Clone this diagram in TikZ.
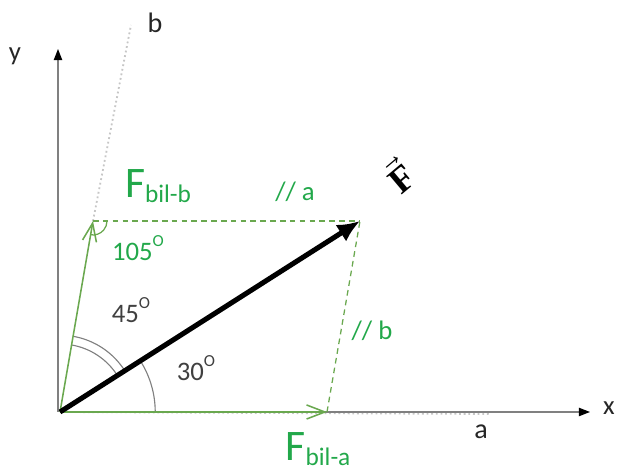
\documentclass[tikz,border=0pt]{standalone}
\usepackage{fontspec}
\setmainfont{Carlito}
\newfontfamily\vecfont{Liberation Serif}
\usetikzlibrary{arrows.meta, angles, quotes, calc}
\definecolor{lblgreen}{RGB}{34,168,74}
\definecolor{compgreen}{RGB}{106,168,79}

\newcommand{\degmark}[1]{#1\raisebox{0.55em}{\fontsize{12}{12}\selectfont O}}
\newcommand{\fcomp}[1]{F\raisebox{-0.12em}{\fontsize{18}{18}\selectfont #1}}

\begin{document}
\begin{tikzpicture}[x=0.025cm, y=0.025cm,
    axis/.style={draw=gray, line width=0.9pt, -{Triangle[length=8pt, width=6pt, color=black]}},
    guide/.style={draw=gray!45, dotted, line width=1.3pt},
    comp/.style={draw=compgreen, line width=1.1pt, -{Straight Barb[length=13pt, width=10pt]}},
    par/.style={draw=compgreen, line width=0.9pt, dash pattern=on 4pt off 3pt},
    lbl/.style={text=lblgreen, font=\fontsize{19}{19}\selectfont},
    ang/.style={text=black!75, font=\fontsize{19}{19}\selectfont}]
    \useasboundingbox (0,0) rectangle (619,471);
    % points of the parallelogram
    \coordinate (O) at (60,59);
    \coordinate (Fa) at (327,59);
    \coordinate (Fb) at (93,250);
    \coordinate (F) at (360,250);
    \coordinate (xend) at (590,59);
    \coordinate (ybot) at (58,59);
    \coordinate (yend) at (58,422);
    \coordinate (aend) at (490,57);
    \coordinate (bend) at (131,446);
    % axes and the lines a, b
    \draw[guide] (O) -- (aend);
    \draw[guide] (Fb) -- (bend);
    \draw[axis] (O) -- (xend);
    \draw[axis] (ybot) -- (yend);
    \node[text=black!85] (xlbl) at (609,63) {\fontsize{19}{19}\selectfont x};
    \node[text=black!85] (ylbl) at (15,415) {\fontsize{19}{19}\selectfont y};
    \node[text=black!85] (albl) at (481,39) {\fontsize{20}{20}\selectfont a};
    \node[text=black!85] (blbl) at (155,448) {\fontsize{20}{20}\selectfont b};
    % angles
    \pic[draw=gray, line width=0.8pt, angle radius=1.7cm] {angle = F--O--Fb};
    \pic[draw=gray, line width=0.8pt, angle radius=1.92cm] {angle = F--O--Fb};
    \pic[draw=gray, line width=0.8pt, angle radius=2.38cm] {angle = Fa--O--F};
    \pic[draw=compgreen, line width=0.9pt, angle radius=0.35cm] {angle = O--Fb--F};
    % parallel lines
    \draw[par] (Fb) -- (F);
    \draw[par] (Fa) -- (F);
    % components and resultant
    \draw[comp] (O) -- (Fa);
    \draw[comp] (O) -- (Fb);
    \draw[line width=3.6pt, -{Latex[length=16pt, width=14pt]}] (O) -- (F);
    \node[rotate=40, inner sep=0pt] (Flbl) at (399,296) {\fontsize{26}{26}\selectfont$\vec{\mbox{\vecfont\bfseries F}}$};
    % labels
    \node[lbl] (fa) at (318,22) {\fontsize{31}{31}\selectfont\fcomp{bil-a}};
    \node[lbl] (fb) at (158,285) {\fontsize{31}{31}\selectfont\fcomp{bil-b}};
    \node[lbl] (para) at (295,279) {// a};
    \node[lbl] (parb) at (372,140) {// b};
    \node[lbl] (a105) at (138,223) {\degmark{105}};
    \node[ang] (a45) at (131,161) {\degmark{45}};
    \node[ang] (a30) at (196,103) {\degmark{30}};
\end{tikzpicture}
\end{document}
